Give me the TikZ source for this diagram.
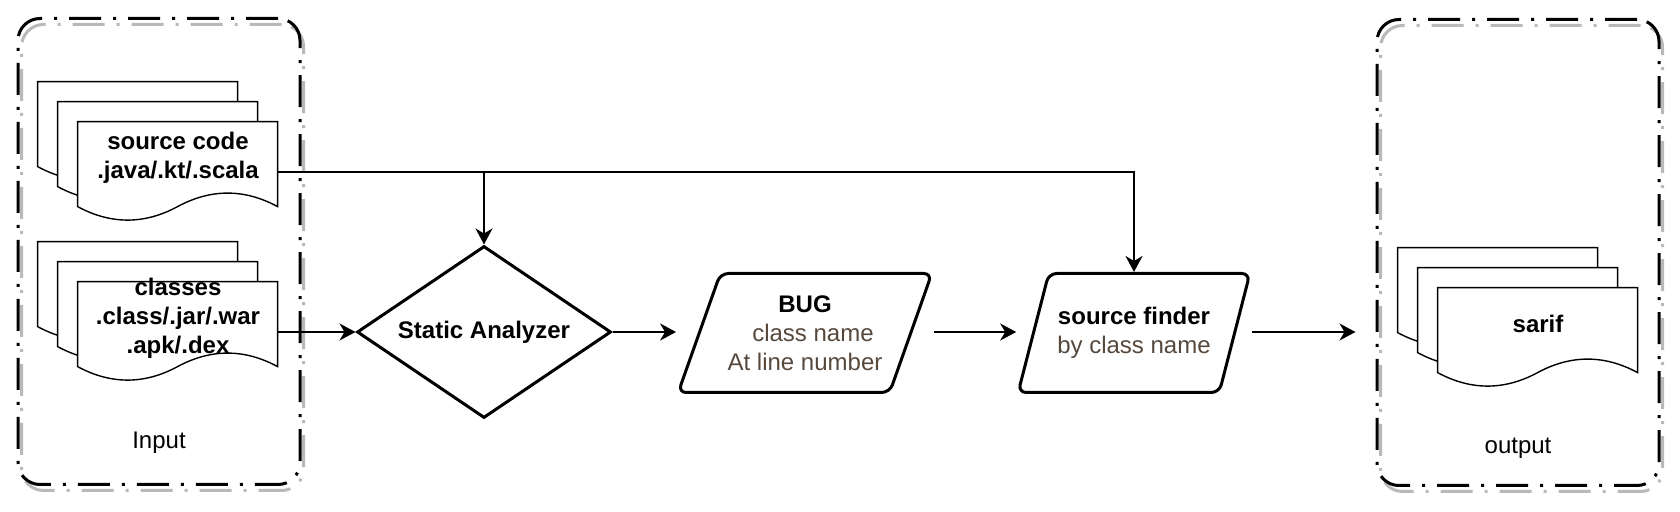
\documentclass[tikz,border=0pt]{standalone}
\usepackage{fontspec}
\setmainfont{Liberation Sans}
\usetikzlibrary{arrows.meta,positioning,shapes.geometric,calc}

\definecolor{notebrown}{RGB}{87,72,60}
\definecolor{shadowgray}{RGB}{185,185,185}

% one page of a document stack, top left corner as argument
\newcommand{\docpage}[1]{%
  \draw[docline, shift={#1}] (0,0) -- (200,0) -- (200,85)
    .. controls (166.7,67) and (133.3,67) .. (100,85)
    .. controls (66.7,103) and (33.3,103) .. (0,85) -- cycle;}
% three pages stacked behind node #1
\newcommand{\docstack}[1]{%
  \docpage{($(#1.north west)+(-40,-40)$)}
  \docpage{($(#1.north west)+(-20,-20)$)}
  \docpage{(#1.north west)}}

\begin{document}
\begin{tikzpicture}[x=0.5pt, y=-0.5pt,
    font=\fontsize{12}{14.5}\selectfont,
    group/.style={draw, line width=1.5pt, rounded corners=11pt, dash pattern=on 16pt off 6pt on 1.5pt off 6pt, minimum width=141pt, minimum height=233pt, preaction={draw=shadowgray, transform canvas={xshift=1.8pt, yshift=-3pt}}},
    docline/.style={draw, fill=white, line width=0.7pt},
    docbox/.style={inner sep=0pt, minimum width=100pt, minimum height=50pt},
    doctext/.style={align=center, inner sep=0pt, font=\fontsize{12}{14.5}\selectfont\bfseries},
    decision/.style={diamond, draw, line width=1.5pt, aspect=1.5, inner sep=0pt, minimum width=127pt, minimum height=86pt, font=\fontsize{12}{14.5}\selectfont\bfseries},
    data/.style={trapezium, trapezium left angle=64, trapezium right angle=116, trapezium stretches=true, draw, line width=1.5pt, rounded corners=4pt, align=center, inner sep=2pt, minimum height=59.5pt},
    arrow/.style={-{Stealth[length=8pt, width=8.5pt, inset=2.5pt]}, line width=1pt}
]
\useasboundingbox (0,0) rectangle (1680,512);

% input and output groups
\node[group] (inbox) at (159,251.5) {};
\node[group] (outbox) at (1518,252.5) {};
\node (inlabel) at (159,443) {Input};
\node (outlabel) at (1518,448) {output};

% document stacks
\node[docbox] (src) at (178,172) {};
\node[docbox] (cls) at (178,332) {};
\node[docbox] (sarif) at (1538,338) {};
\docstack{src}
\docstack{cls}
\docstack{sarif}
\node[doctext] (srctxt) at ([yshift=7pt]src.center) {source code\\.java/.kt/.scala};
\node[doctext] (clstxt) at ([yshift=7pt]cls.center) {classes\\.class/.jar/.war\\.apk/.dex};
\node[doctext] (sariftxt) at ([yshift=7pt]sarif.center) {sarif};

% analysis steps
\node[decision] (dia) at (484,332) {Static Analyzer};
\node[data, minimum width=127pt] (bug) at (805,333) {\textbf{BUG}\\\textcolor{notebrown}{\hspace*{8pt}class name}\\\textcolor{notebrown}{At line number}};
\node[data, minimum width=116pt] (finder) at (1134,333) {\textbf{source finder}\\\textcolor{notebrown}{by class name}};

\draw[arrow] (src.east) -| (dia.north);
\draw[arrow] (src.east) -| (finder.north);
\draw[arrow] (cls.east) -- (dia.west);
\draw[arrow] (dia.east) -- (dia.east -| bug.bottom left corner);
\draw[arrow] (bug.top right corner |- dia.east) -- (finder.bottom left corner |- dia.east);
\draw[arrow, shorten >=10pt] (finder.top right corner |- dia.east) -- (dia.east -| outbox.west);
\end{tikzpicture}
\end{document}
